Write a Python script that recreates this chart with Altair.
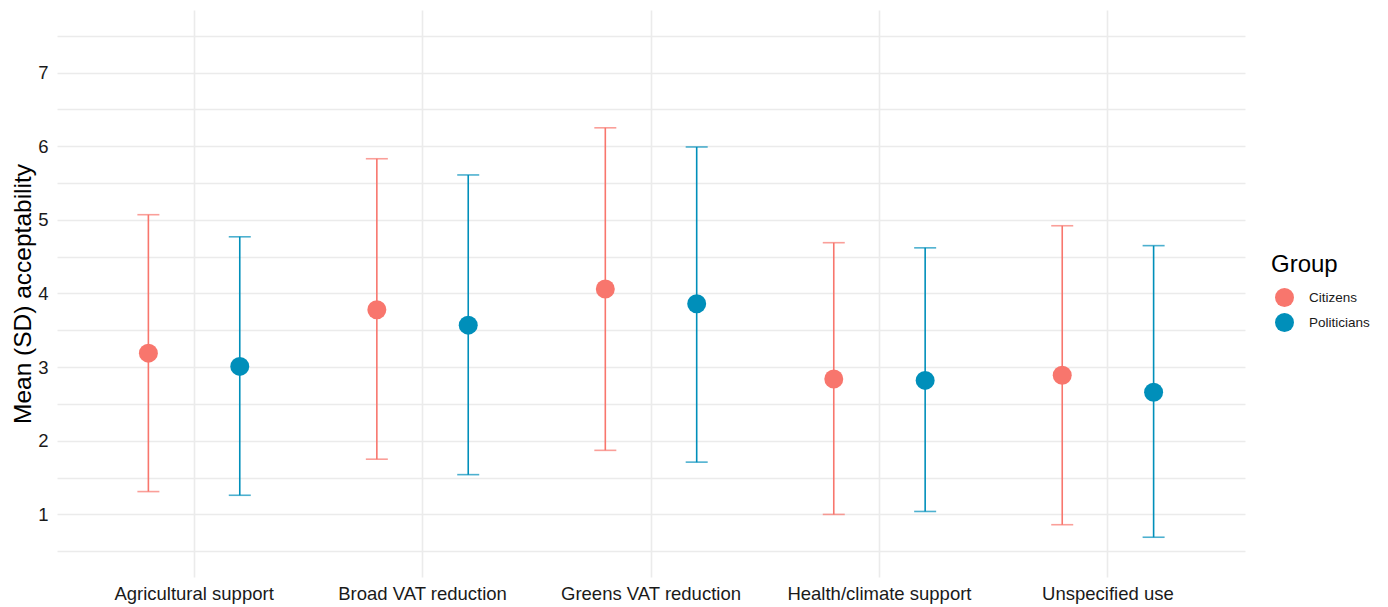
import altair as alt
import pandas as pd

categories = ["Agricultural support", "Broad VAT reduction", "Greens VAT reduction",
              "Health/climate support", "Unspecified use"]
groups = ["Citizens", "Politicians"]

citizens_mean = [3.19, 3.78, 4.06, 2.84, 2.89]
citizens_low = [1.31, 1.75, 1.87, 1.00, 0.86]
citizens_high = [5.07, 5.83, 6.25, 4.69, 4.92]

politicians_mean = [3.01, 3.57, 3.86, 2.82, 2.66]
politicians_low = [1.26, 1.54, 1.71, 1.04, 0.69]
politicians_high = [4.77, 5.61, 5.99, 4.62, 4.65]

rows = []
for i, c in enumerate(categories):
    rows.append({"category": c, "group": "Citizens", "mean": citizens_mean[i],
                 "low": citizens_low[i], "high": citizens_high[i]})
    rows.append({"category": c, "group": "Politicians", "mean": politicians_mean[i],
                 "low": politicians_low[i], "high": politicians_high[i]})
df = pd.DataFrame(rows)

FONT = "Liberation Sans"
colors = ["#F8766D", "#008FBA"]
GRID = "#EBEBEB"

x_enc = alt.X("category:N", sort=categories, title=None,
              scale=alt.Scale(paddingInner=0, paddingOuter=0.1),
              axis=alt.Axis(grid=True, bandPosition=0.5, ticks=False, domain=False,
                            labelAngle=0, labelFontSize=18.5, labelColor="#1a1a1a",
                            labelPadding=7, labelLimit=400, gridColor=GRID, gridWidth=1.6,
                            labelFont=FONT))
xo_enc = alt.XOffset("group:N", sort=groups,
                     scale=alt.Scale(type="point", padding=0.75))
y_scale = alt.Scale(domain=[0.15, 7.85], nice=False, zero=False)
color_enc = alt.Color("group:N", sort=groups,
                      scale=alt.Scale(domain=groups, range=colors),
                      legend=alt.Legend(title="Group", orient="none",
                                        legendX=1214, legendY=243,
                                        titleFontSize=24, titleFontWeight="normal",
                                        titleColor="#000000", titleFont=FONT,
                                        labelFontSize=13.5, labelFont=FONT,
                                        labelColor="#1a1a1a",
                                        symbolType="circle", symbolSize=360,
                                        symbolOpacity=1, symbolOffset=4,
                                        symbolStrokeWidth=0, rowPadding=6,
                                        titlePadding=11, labelOffset=15,
                                        offset=0))

base = alt.Chart(df)

rules = base.mark_rule(strokeWidth=1.6).encode(
    x=x_enc, xOffset=xo_enc,
    y=alt.Y("low:Q", scale=y_scale,
            title="Mean (SD) acceptability",
            axis=alt.Axis(values=[0.5, 1, 1.5, 2, 2.5, 3, 3.5, 4, 4.5, 5, 5.5, 6, 6.5, 7, 7.5],
                          labelExpr="datum.value % 1 == 0 ? format(datum.value, 'd') : ''",
                          ticks=False, domain=False, gridColor=GRID, gridWidth=1.6,
                          labelFontSize=18.5, labelColor="#1a1a1a", labelPadding=9,
                          titleFontSize=24.5, titleFontWeight="normal", titleColor="#000000",
                          titlePadding=2, labelFont=FONT, titleFont=FONT)),
    y2="high:Q",
    color=color_enc,
)

caps_low = base.mark_tick(size=22, thickness=1.6, orient="horizontal").encode(
    x=x_enc, xOffset=xo_enc, y=alt.Y("low:Q", scale=y_scale), color=color_enc)
caps_high = base.mark_tick(size=22, thickness=1.6, orient="horizontal").encode(
    x=x_enc, xOffset=xo_enc, y=alt.Y("high:Q", scale=y_scale), color=color_enc)

points = base.mark_circle(size=360, opacity=1).encode(
    x=x_enc, xOffset=xo_enc, y=alt.Y("mean:Q", scale=y_scale), color=color_enc)

chart = alt.layer(rules, caps_low, caps_high, points).properties(
    width=1188, height=567,
    autosize=alt.AutoSizeParams(type="none"),
    padding={"left": 49, "top": 2, "right": 135, "bottom": 30},
).configure(font=FONT).configure_view(stroke=None)

chart.save("out.html", embed_options={"renderer": "svg", "actions": False})
